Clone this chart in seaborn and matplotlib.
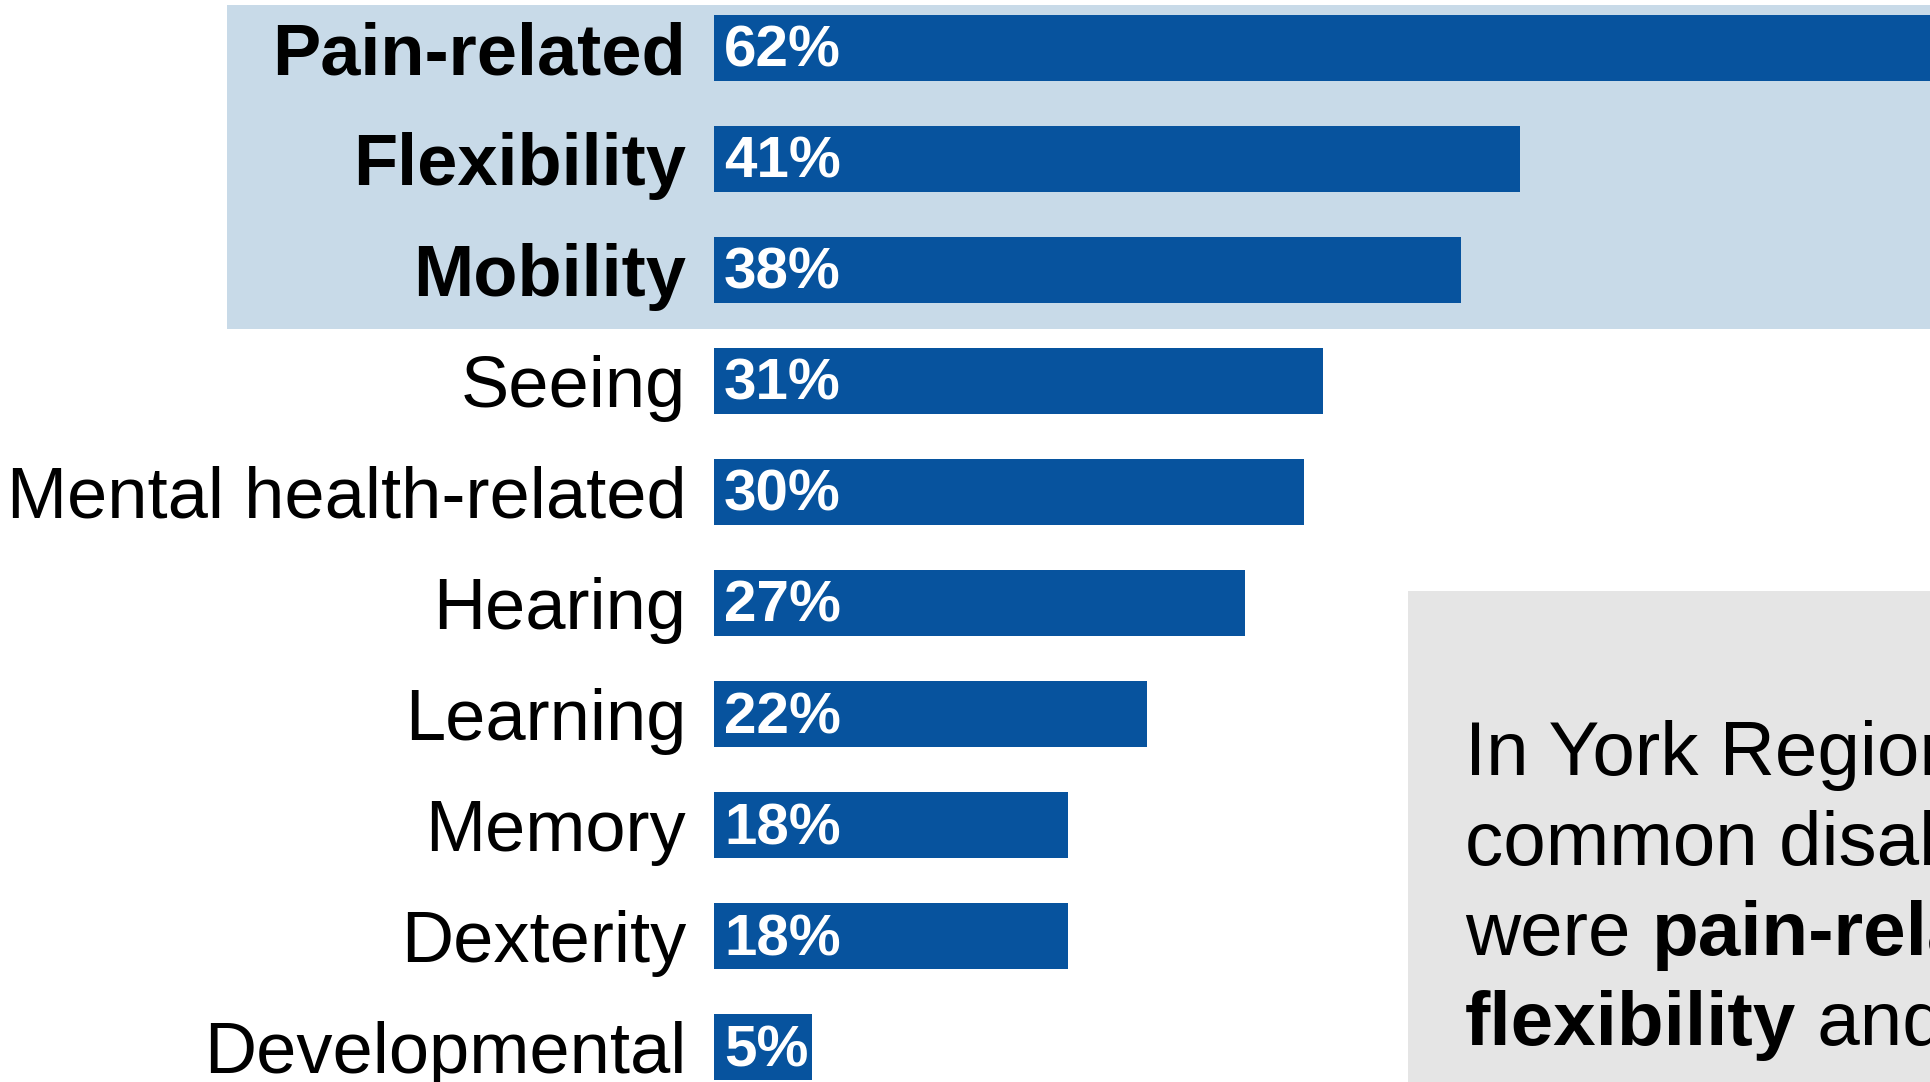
import numpy as np
import pandas as pd
import matplotlib
matplotlib.use('Agg')
import matplotlib.pyplot as plt
import matplotlib.transforms as mtransforms
from matplotlib.patches import Rectangle
import seaborn as sns

# ============================================================
# DATA
# ============================================================

categories = ['Pain-related', 'Flexibility', 'Mobility', 'Seeing',
              'Mental health-related', 'Hearing', 'Learning', 'Memory',
              'Dexterity', 'Developmental']
percent = [62, 41, 38, 31, 30, 27, 22, 18, 18, 5]
highlighted = ['Pain-related', 'Flexibility', 'Mobility']

# note box: list of lines, each a list of (text, bold) pieces
note_lines = [
    [('In York Region, the most', False)],
    [('common disabilities', False)],
    [('were ', False), ('pain-related,', True)],
    [('flexibility', True), (' and mobility', False)],
]

BAR_BLUE = '#07539E'
HILITE = '#C8DAE8'
NOTE_GREY = '#E5E5E5'

df = pd.DataFrame({'category': categories, 'percent': percent})

# ============================================================
# PLOT
# ============================================================

sns.set_style('white')
plt.rcParams['font.family'] = ['Liberation Sans', 'DejaVu Sans']
plt.rcParams['text.color'] = 'black'
plt.rcParams['ytick.color'] = 'black'
plt.rcParams['ytick.labelcolor'] = 'black'

W, H = 1931, 1082
fig = plt.figure(figsize=(W / 100, H / 100), dpi=100)
ax = fig.add_axes([714 / W, 0, 1 - 714 / W, 1])
ax.set_facecolor('none')

sns.barplot(data=df, x='percent', y='category', orient='h', color=BAR_BLUE,
            saturation=1, width=0.6, ax=ax, zorder=2, linewidth=0)

ax.set_xlim(0, 61.9)
ax.set_ylim(9.315, -0.432)

# highlight band behind the top three rows
band = Rectangle((227 / W, -0.39), 1 - 227 / W, 2.92,
                 transform=mtransforms.blended_transform_factory(fig.transFigure, ax.transData),
                 facecolor=HILITE, edgecolor='none', zorder=0, clip_on=False)
ax.add_patch(band)

# value labels inside the bars
off = mtransforms.offset_copy(ax.transData, fig=fig, x=10 / 100 * 72, y=-4 / 100 * 72,
                              units='points')
for i, v in enumerate(percent):
    ax.text(0, i, f'{v}%', transform=off, color='white', fontsize=42,
            fontweight='bold', va='center', ha='left', zorder=3)

ax.set_xlabel('')
ax.set_ylabel('')
ax.set_xticks([])
ax.tick_params(axis='y', length=0, pad=20, labelsize=52, labelcolor='black')
for lbl in ax.get_yticklabels():
    if lbl.get_text() in highlighted:
        lbl.set_fontweight('bold')
sns.despine(ax=ax, left=True, bottom=True)

# grey note box
fig.patches.append(Rectangle((1408 / W, 0), 1 - 1408 / W, 1 - 591 / H,
                             transform=fig.transFigure, facecolor=NOTE_GREY,
                             edgecolor='none', zorder=1))

renderer = fig.canvas.get_renderer()
x0 = 1465
for k, pieces in enumerate(note_lines):
    y = 1 - (775 + 90 * k) / H
    x = x0
    for txt, bold in pieces:
        t = fig.text(x / W, y, txt, fontsize=55, va='baseline', ha='left',
                     color='black', fontweight='bold' if bold else 'normal', zorder=2)
        x += t.get_window_extent(renderer).width

plt.savefig('out.png', dpi=100)
plt.close()
print('saved out.png')
